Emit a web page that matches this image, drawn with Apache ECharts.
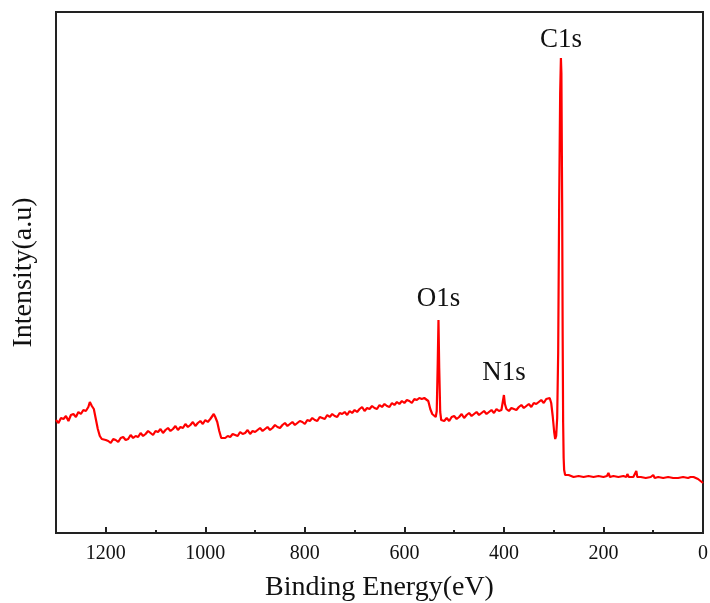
<!DOCTYPE html>
<html>
<head>
<meta charset="utf-8">
<script src="https://cdn.jsdelivr.net/npm/echarts@6/dist/echarts.min.js"></script>
<style>
  html, body { margin: 0; padding: 0; background: #fff; }
  #chart { width: 710px; height: 603px; }
</style>
</head>
<body>
<div id="chart"></div>
<script>
// XPS survey spectrum (intensity in arbitrary units)
const energies = [
  1300, 1295, 1290, 1285, 1280, 1275, 1270, 1265, 1260, 1255, 1250, 1245, 1240, 1235,
  1232, 1228, 1224, 1220, 1216, 1212, 1208, 1204, 1200,
  1195, 1190, 1185, 1180, 1175, 1170, 1165, 1160, 1155, 1150, 1145, 1140, 1135, 1130,
  1125, 1120, 1115, 1110, 1105, 1100, 1095, 1090, 1085, 1080, 1075, 1070, 1065, 1060,
  1055, 1050, 1045, 1040, 1035, 1030, 1025, 1020, 1015, 1010, 1005, 1000, 995, 990, 986,
  983, 980, 976, 972, 968, 964, 960,
  955, 950, 945, 940, 935, 930, 925, 920, 915, 910, 905, 900, 895, 890, 885, 880,
  875, 870, 865, 860, 855, 850, 845, 840, 835, 830, 825, 820, 815, 810, 805, 800,
  795, 790, 785, 780, 775, 770, 765, 760, 755, 750, 745, 740, 735, 730, 725, 720,
  715, 710, 705, 700, 695, 690, 685, 680, 675, 670, 665, 660, 655, 650, 645, 640,
  635, 630, 625, 620, 615, 610, 605, 600, 595, 590, 585, 580, 575, 570, 565,
  560, 556, 552, 548, 544, 540, 537, 535, 533, 531.5, 530, 528, 526, 523, 520,
  515, 510, 505, 500, 495, 490, 485, 480, 475, 470, 465, 460, 455, 450, 445, 440,
  435, 430, 425, 420, 415, 410, 405, 402, 400, 398, 395, 390, 385, 380, 375, 370,
  365, 360, 355, 350, 345, 340, 335, 330, 325, 320, 315, 311, 308, 305, 302, 299,
  297, 295, 293, 291, 289, 287, 285.5, 284.5, 283, 282, 281, 280, 279, 277, 274,
  270, 260, 250, 240, 230, 220, 210, 200, 193, 190, 187, 180, 170, 160, 154, 152,
  149, 140, 136, 134, 132, 125, 115, 105, 100, 97, 90, 80, 70, 60, 50, 40, 30,
  25, 22, 19, 15, 10, 5, 0
];
const intensities = [
  113, 110, 115, 114, 117, 112, 118, 119, 116, 121, 119, 123, 122, 126,
  131, 127, 124, 114, 104, 97, 94, 92, 93,
  92, 90, 94, 93, 91, 95, 96, 93, 94, 98, 95, 97, 96, 100,
  97, 99, 102, 100, 98, 102, 101, 104, 100, 103, 105, 102, 104, 107,
  103, 106, 105, 109, 106, 108, 111, 107, 110, 112, 109, 113, 111, 114, 115,
  119, 116, 111, 102, 95, 97, 95,
  97, 96, 99, 98, 97, 101, 99, 100, 103, 99, 102, 101, 103, 105, 102, 104,
  106, 103, 105, 108, 106, 105, 108, 110, 107, 109, 111, 108, 110, 112, 111, 109,
  113, 112, 115, 113, 112, 116, 115, 114, 118, 116, 119, 117, 116, 120, 119, 121,
  118, 122, 120, 123, 121, 124, 126, 122, 125, 124, 127, 125, 124, 128, 126, 129,
  127, 126, 130, 128, 131, 129, 132, 130, 133, 132, 130, 134, 133, 135, 134,
  135, 137, 132, 124, 119, 117, 116, 122, 170, 213, 165, 121, 113, 115, 112,
  115, 112, 116, 117, 114, 116, 119, 115, 118, 120, 117, 119, 121, 118, 120, 122,
  119, 121, 123, 120, 124, 122, 123, 132, 138, 129, 124, 122, 125, 124, 123, 126,
  128, 125, 127, 129, 126, 130, 129, 131, 133, 130, 134, 136, 135, 130, 117, 101,
  94, 97, 115, 180, 330, 440, 475, 460, 330, 200, 110, 75, 63, 58, 57,
  58, 56, 57, 56, 57, 56, 57, 56, 57, 60, 56, 57, 56, 57, 56, 59,
  56, 56, 57, 62, 56, 56, 55, 56, 58, 55, 56, 55, 56, 55, 55, 56, 55,
  56, 58, 56, 56, 54, 52, 50
];
const peakNames = ['C1s', 'O1s', 'N1s'];
const peakEnergies = [285.5, 531.5, 400];
const peakIntensities = [475, 213, 138];

const majorTicks = 200;
const minorTicks = 100;

const serif = "'Liberation Serif', 'DejaVu Serif', serif";

const chart = echarts.init(document.getElementById('chart'));

const spectrum = energies.map((e, i) => [e, intensities[i]]);

const option = {
  animation: false,
  backgroundColor: '#fff',
  grid: {
    left: 56, right: 7, top: 12, bottom: 70,
    outerBoundsMode: 'none',
    show: true, borderColor: '#222', borderWidth: 2
  },
  xAxis: [
    {
      type: 'value', min: 0, max: 1300, interval: majorTicks, inverse: true,
      name: 'Binding Energy(eV)', nameLocation: 'middle', nameGap: 41,
      nameTextStyle: { fontFamily: serif, fontSize: 28, color: '#111' },
      axisLine: { lineStyle: { color: '#222', width: 2 } },
      axisTick: { inside: true, length: 6, lineStyle: { color: '#222', width: 2 } },
      axisLabel: {
        fontFamily: serif, fontSize: 20, color: '#111', margin: 11, showMaxLabel: false,
        formatter: v => String(v)
      },
      splitLine: { show: false }
    },
    {
      type: 'value', min: 0, max: 1300, interval: minorTicks, inverse: true, position: 'bottom',
      axisLine: { show: false },
      axisTick: { inside: true, length: 3, lineStyle: { color: '#222', width: 2 } },
      axisLabel: { show: false },
      splitLine: { show: false }
    }
  ],
  yAxis: {
    type: 'value', min: 0, max: 521,
    name: 'Intensity(a.u)', nameLocation: 'middle', nameGap: 18,
    nameTextStyle: { fontFamily: serif, fontSize: 28, color: '#111' },
    axisLine: { show: true, lineStyle: { color: '#222', width: 2 } },
    axisTick: { show: false },
    axisLabel: { show: false },
    splitLine: { show: false }
  },
  series: [{
    type: 'line',
    data: spectrum,
    showSymbol: false,
    lineStyle: { color: '#ff0000', width: 2.2 },
    markPoint: {
      symbol: 'circle', symbolSize: 0,
      label: {
        show: true, position: 'top', formatter: '{b}',
        fontFamily: serif, fontSize: 27, color: '#111'
      },
      data: peakNames.map((n, i) => ({
        name: n,
        coord: [peakEnergies[i], peakIntensities[i]],
        label: { distance: [5, 8, 9][i] }
      }))
    }
  }]
};

chart.setOption(option);
window.addEventListener('resize', () => chart.resize());
</script>
</body>
</html>
